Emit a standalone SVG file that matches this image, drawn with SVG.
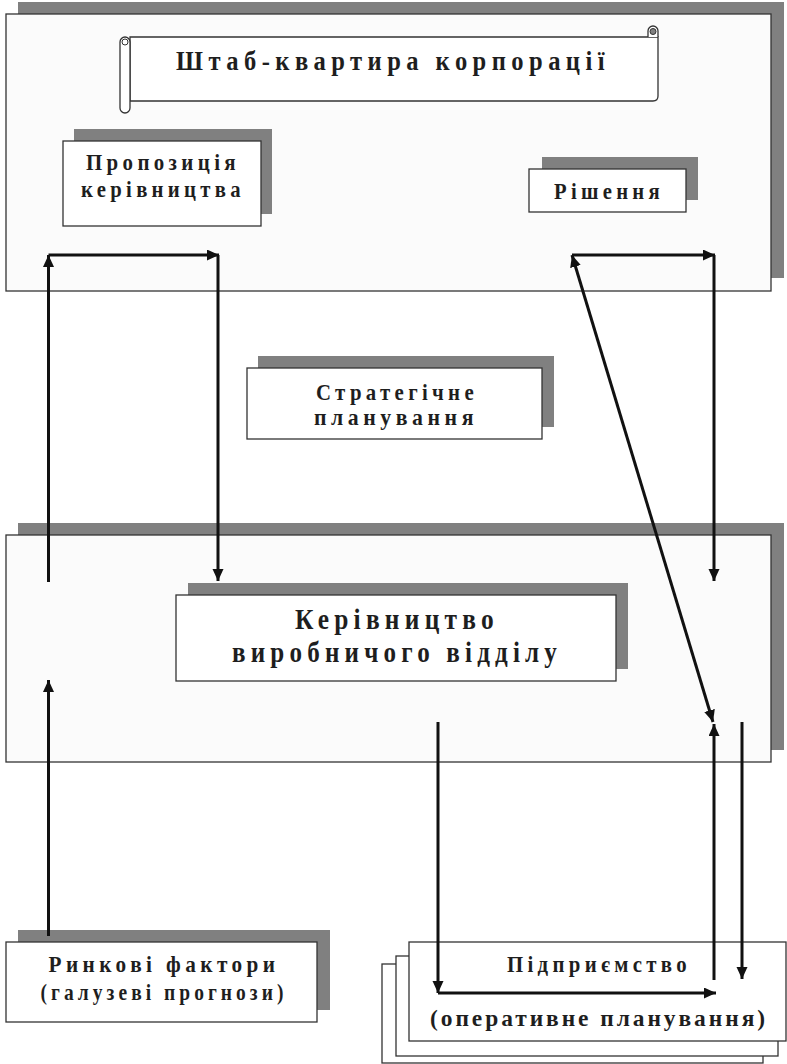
<svg xmlns="http://www.w3.org/2000/svg" width="787" height="1064" viewBox="0 0 787 1064">
<style>
.bg{fill:#ffffff}
.sh{fill:#808080;stroke:none}
.frame{fill:#fbfbfb;stroke:#333;stroke-width:1.3}
.box{fill:#ffffff;stroke:#333;stroke-width:1.3}
.t{font-family:"Liberation Serif","Times New Roman",serif;font-weight:bold;fill:#1e1e1e;text-anchor:middle;font-size:24px;letter-spacing:5px}
.t1{font-size:27px;letter-spacing:6px}
.t2{font-size:29px;letter-spacing:6px}
.t3{letter-spacing:3px}
.c{stroke:#111;stroke-width:3;fill:none}
</style>
<defs>
<marker id="ah" markerUnits="userSpaceOnUse" markerWidth="13" markerHeight="12" refX="12" refY="5.5" orient="auto-start-reverse">
<path d="M0,0 L12,5.5 L0,11 Z" fill="#111"/>
</marker>
</defs>
<rect class="bg" x="0" y="0" width="787" height="1064"/>

<g id="hq-frame">
<rect class="sh" x="18" y="2" width="766" height="276"/>
<rect class="frame" x="6" y="14" width="765" height="277"/>
</g>

<g id="hq-title">
<path class="box" d="M130,37 H658 V96 Q658,101 653,101 H130 Z"/>
<path class="box" d="M648,37 V31 A5,5 0 0 1 658,31 V37"/>
<circle cx="653" cy="31.5" r="3" fill="#808080" stroke="#333" stroke-width="1"/>
<rect class="box" x="120" y="37" width="10" height="76" rx="5"/>
<circle cx="125" cy="42" r="3" fill="none" stroke="#333" stroke-width="1"/>
<text class="t t1" x="393" y="70" textLength="434" lengthAdjust="spacingAndGlyphs">Штаб-квартира корпорації</text>
</g>

<g id="proposal">
<rect class="sh" x="74" y="129" width="198" height="85"/>
<rect class="box" x="63" y="141" width="198" height="85"/>
<text class="t" x="163" y="170" textLength="154" lengthAdjust="spacingAndGlyphs">Пропозиція</text>
<text class="t" x="163" y="197" textLength="164" lengthAdjust="spacingAndGlyphs">керівництва</text>
</g>

<g id="decision">
<rect class="sh" x="542" y="157" width="156" height="43"/>
<rect class="box" x="529" y="169" width="157" height="43"/>
<text class="t" x="609" y="199" textLength="110" lengthAdjust="spacingAndGlyphs">Рішення</text>
</g>

<g id="strategic">
<rect class="sh" x="258" y="356" width="296" height="71"/>
<rect class="box" x="247" y="368" width="295" height="71"/>
<text class="t" x="397" y="400" textLength="162" lengthAdjust="spacingAndGlyphs">Стратегічне</text>
<text class="t" x="396" y="425" textLength="164" lengthAdjust="spacingAndGlyphs">планування</text>
</g>

<g id="division-frame">
<rect class="sh" x="18" y="523" width="766" height="227"/>
<rect class="frame" x="6" y="535" width="765" height="227"/>
</g>

<g id="division-mgmt">
<rect class="sh" x="188" y="583" width="440" height="86"/>
<rect class="box" x="176" y="595" width="440" height="86"/>
<text class="t t2" x="397" y="629" textLength="204" lengthAdjust="spacingAndGlyphs">Керівництво</text>
<text class="t t2" x="397" y="662" textLength="330" lengthAdjust="spacingAndGlyphs">виробничого відділу</text>
</g>

<g id="market">
<rect class="sh" x="18" y="930" width="312" height="80"/>
<rect class="box" x="6" y="942" width="311" height="80"/>
<text class="t" x="164" y="972" textLength="231" lengthAdjust="spacingAndGlyphs">Ринкові фактори</text>
<text class="t" x="164" y="1000" textLength="247" lengthAdjust="spacingAndGlyphs">(галузеві прогнози)</text>
</g>

<g id="enterprise">
<rect class="box" x="382" y="964" width="381" height="99"/>
<rect class="box" x="396" y="956" width="382" height="100"/>
<rect class="box" x="409" y="942" width="377" height="99"/>
<text class="t" x="599" y="972" textLength="184" lengthAdjust="spacingAndGlyphs">Підприємство</text>
<text class="t t3" x="599" y="1026" textLength="338" lengthAdjust="spacingAndGlyphs">(оперативне планування)</text>
</g>

<g id="connectors">
<line class="c" x1="48.5" y1="582" x2="48.5" y2="255" marker-end="url(#ah)"/>
<line class="c" x1="48.5" y1="255" x2="219" y2="255" marker-end="url(#ah)"/>
<line class="c" x1="218" y1="255" x2="218" y2="581" marker-end="url(#ah)"/>
<line class="c" x1="48.5" y1="936" x2="48.5" y2="680" marker-end="url(#ah)"/>
<line class="c" x1="713" y1="722" x2="572" y2="255" marker-start="url(#ah)" marker-end="url(#ah)"/>
<line class="c" x1="572" y1="255" x2="715" y2="255" marker-end="url(#ah)"/>
<line class="c" x1="714" y1="255" x2="714" y2="581" marker-end="url(#ah)"/>
<line class="c" x1="438" y1="722" x2="438" y2="993" marker-end="url(#ah)"/>
<line class="c" x1="438" y1="993" x2="716" y2="993" marker-end="url(#ah)"/>
<line class="c" x1="714" y1="980" x2="714" y2="724" marker-end="url(#ah)"/>
<line class="c" x1="742" y1="722" x2="742" y2="979" marker-end="url(#ah)"/>
</g>
</svg>
